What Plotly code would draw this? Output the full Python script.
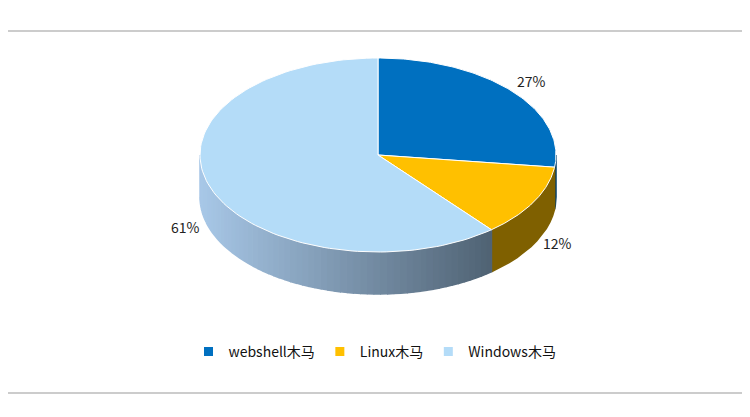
import numpy as np
import plotly.graph_objects as go

labels = ["webshell木马", "Linux木马", "Windows木马"]
values = [27, 12, 61]
top_colors = ["#0070c0", "#ffc000", "#b4dcf8"]
side_colors = ["#003e6b", "#7f6000", None]  # Windows side uses a gradient

W, H = 750, 417
OFF = 8  # page body margin
cx, cy, rx, ry, depth = 378, 155, 178, 97, 42
FONT = "Noto Sans CJK SC"


def pt(a, dz=0):
    return cx + rx * np.cos(a), cy - ry * np.sin(a) + dz


def lerp(c1, c2, t):
    a = [int(c1[i:i + 2], 16) for i in (1, 3, 5)]
    b = [int(c2[i:i + 2], 16) for i in (1, 3, 5)]
    return "#%02x%02x%02x" % tuple(int(a[k] + (b[k] - a[k]) * t) for k in range(3))


fig = go.Figure()
total = sum(values)
starts, ends = [], []
a0 = np.pi / 2
for v in values:
    a1 = a0 - 2 * np.pi * v / total
    starts.append(a0)
    ends.append(a1)
    a0 = a1

# side walls (visible lower half only)
for i in range(len(values)):
    lo, hi = ends[i], starts[i]
    for shift in (0, -2 * np.pi, 2 * np.pi):
        s, e = max(lo + shift, -np.pi), min(hi + shift, 0)
        if e <= s:
            continue
        nstrip = 60 if side_colors[i] is None else 1
        edges = np.linspace(s, e, nstrip + 1)
        for k in range(nstrip):
            aa = np.linspace(edges[k], edges[k + 1], 12)
            x1, y1 = pt(aa)
            x2, y2 = pt(aa[::-1], depth)
            if side_colors[i] is None:
                t = (np.mean(x1) - (cx - rx)) / (2 * rx)
                col = lerp("#a8c8e8", "#3c4c5a", min(1, max(0, t)))
            else:
                col = side_colors[i]
            fig.add_trace(go.Scatter(x=np.r_[x1, x2], y=np.r_[y1, y2], fill="toself",
                                     fillcolor=col, mode="lines", line=dict(width=1.5, color=col),
                                     showlegend=False, hoverinfo="skip"))

# top faces
for i in range(len(values)):
    aa = np.linspace(starts[i], ends[i], 120)
    x, y = pt(aa)
    fig.add_trace(go.Scatter(x=np.r_[cx, x, cx], y=np.r_[cy, y, cy], fill="toself",
                             fillcolor=top_colors[i], mode="lines",
                             line=dict(width=1, color="white"),
                             showlegend=False, hoverinfo="skip"))

# percentage labels
for i, v in enumerate(values):
    m = (starts[i] + ends[i]) / 2
    x, y = cx + 1.15 * rx * np.cos(m), cy - 1.15 * ry * np.sin(m)
    if np.sin(m) < 0:
        y += depth - 8
    fig.add_annotation(x=x, y=y, text=f"{v}%", showarrow=False,
                       font=dict(size=14, color="#222", family=FONT))

# legend entries
for i in range(len(values)):
    fig.add_trace(go.Scatter(x=[None], y=[None], mode="markers", name=labels[i],
                             marker=dict(symbol="square", size=9, color=top_colors[i])))

fig.add_shape(type="line", x0=0, x1=W, y0=31, y1=31, line=dict(color="#999", width=1))
fig.add_shape(type="line", x0=0, x1=W, y0=393, y1=393, line=dict(color="#999", width=1))
fig.add_annotation(x=6, y=15, xanchor="left", showarrow=False,
                   text="<b>图12：    病毒木马种类</b>",
                   font=dict(size=17, color="#1f3f8f", family=FONT))
fig.add_annotation(x=6, y=403, xanchor="left", showarrow=False,
                   text="资料来源：站长之家、新时代证券研究所",
                   font=dict(size=13, color="#111", family=FONT))

fw, fh = W - 2 * OFF, H - 2 * OFF
fig.update_layout(
    width=fw, height=fh, margin=dict(l=0, r=0, t=0, b=0),
    paper_bgcolor="white", plot_bgcolor="white",
    xaxis=dict(range=[OFF, OFF + fw], visible=False, fixedrange=True),
    yaxis=dict(range=[OFF + fh, OFF], visible=False, fixedrange=True),
    legend=dict(orientation="h", x=0.5, xanchor="center", y=1 - (352 - OFF) / fh, yanchor="middle",
                font=dict(size=14, family=FONT, color="#111"), itemwidth=30),
)
fig.write_html("out.html")
